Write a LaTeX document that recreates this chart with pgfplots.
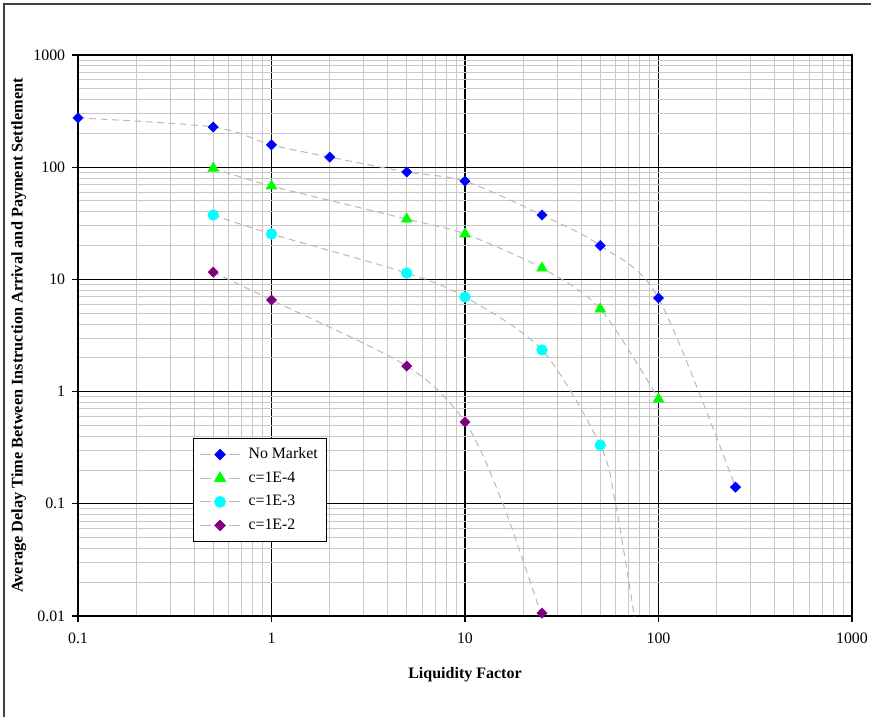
\documentclass[border=0pt]{standalone}
\usepackage{fontspec}
\setmainfont{Liberation Serif}
\usepackage{pgfplots}
\pgfplotsset{compat=1.18}
\definecolor{xlblue}{HTML}{0000FF}
\definecolor{xlgreen}{HTML}{00FF00}
\definecolor{xlcyan}{HTML}{00FFFF}
\definecolor{xlpurple}{HTML}{800080}
\definecolor{trendgray}{HTML}{B8B8B8}
\definecolor{minorgray}{HTML}{C8C8C8}
\begin{document}
\fontsize{11.9}{14}\selectfont
\begin{tikzpicture}
\useasboundingbox (-58.5pt,-75.75pt) rectangle (594.75pt,462pt);
\draw[line width=1.2pt, black!75] (-55.5pt,-80pt) -- (-55.5pt,459pt) -- (600pt,459pt);
\begin{axis}[
  scale only axis,
  width=580.5pt, height=420.75pt,
  at={(0pt,0pt)}, anchor=south west,
  xmode=log, ymode=log,
  xmin=0.1, xmax=1000, ymin=0.01, ymax=1000,
  xtick={0.1,1,10,100,1000},
  xticklabels={0.1,1,10,100,1000},
  ytick={0.01,0.1,1,10,100,1000},
  yticklabels={0.01,0.1,1,10,100,1000},
  minor xtick={0.2,0.3,0.4,0.5,0.6,0.7,0.8,0.9,2,3,4,5,6,7,8,9,20,30,40,50,60,70,80,90,200,300,400,500,600,700,800,900},
  minor ytick={0.02,0.03,0.04,0.05,0.06,0.07,0.08,0.09,0.2,0.3,0.4,0.5,0.6,0.7,0.8,0.9,2,3,4,5,6,7,8,9,20,30,40,50,60,70,80,90,200,300,400,500,600,700,800,900},
  grid=both,
  major grid style={black, line width=0.8pt},
  minor grid style={minorgray, line width=0.75pt},
  tick align=outside,
  major tick length=4.5pt,
  minor tick length=0pt,
  xtick pos=bottom, ytick pos=left,
  tick style={black, line width=0.8pt},
  axis line style={black, line width=0.8pt},
  tick label style={font=\fontsize{11.9}{14}\selectfont},
  xticklabel style={yshift=-4pt},
  yticklabel style={xshift=-1pt},
  xlabel={\textbf{Liquidity Factor}},
  ylabel={\textbf{Average Delay Time Between Instruction Arrival and Payment Settlement}},
  every axis x label/.style={at={(axis description cs:0.5,-0.105)}, anchor=center, font=\fontsize{12}{14}\selectfont},
  every axis y label/.style={at={(axis description cs:-0.0765,0.5)}, anchor=center, rotate=90, font=\fontsize{12.2}{14}\selectfont},
  clip mode=individual,
  trend/.style={trendgray, line width=0.75pt, dash pattern=on 5pt off 3.5pt, smooth, no markers, forget plot},
  legend style={at={(0.1486,0.3173)}, anchor=north west, draw=black, line width=0.8pt,
    font=\fontsize{11.9}{14}\selectfont, row sep=4pt, inner xsep=4.5pt, inner ysep=5pt,
    /tikz/every odd column/.append style={column sep=4pt}},
  legend cell align=left,
  legend image code/.code={
    \draw[trendgray, line width=0.75pt, dash pattern=on 8pt off 3pt] (0pt,0pt) -- (30pt,0pt);
    \draw[mark repeat=2,mark phase=2,#1] plot coordinates {(0pt,0pt) (15pt,0pt) (30pt,0pt)};
  },
]
% trend lines
\addplot[trend] coordinates {(0.1,275) (0.5,228) (1,158) (2,123) (5,90.6) (10,75) (25,37.5) (50,20) (100,6.83) (250,0.141)};
\addplot[trend] coordinates {(0.5,98) (1,68) (5,34.5) (10,25.4) (25,12.6) (50,5.45) (100,0.86)};
\addplot[trend] coordinates {(0.5,37.5) (1,25.4) (5,11.4) (10,6.97) (25,2.35) (50,0.334) (60,0.1) (75,0.01) (78,0.006)};
\addplot[trend] coordinates {(0.5,11.6) (1,6.55) (5,1.69) (10,0.536) (15.7,0.1) (25,0.0098)};
% markers
\addplot[only marks, mark=square*, mark size=2.7pt, mark options={rotate=45, fill=xlblue, draw=xlblue}]
  coordinates {(0.1,275) (0.5,228) (1,158) (2,123) (5,90.6) (10,75) (25,37.5) (50,20) (100,6.83) (250,0.141)};
\addlegendentry{No Market}
\addplot[only marks, mark=triangle*, mark size=4.6pt, mark options={fill=xlgreen, draw=xlgreen}]
  coordinates {(0.5,98) (1,68) (5,34.5) (10,25.4) (25,12.6) (50,5.45) (100,0.86)};
\addlegendentry{c=1E-4}
\addplot[only marks, mark=*, mark size=4pt, mark options={fill=xlcyan, draw=xlcyan}]
  coordinates {(0.5,37.5) (1,25.4) (5,11.4) (10,6.97) (25,2.35) (50,0.334)};
\addlegendentry{c=1E-3}
\addplot[only marks, mark=square*, mark size=2.7pt, mark options={rotate=45, fill=xlpurple, draw=xlpurple}]
  coordinates {(0.5,11.6) (1,6.55) (5,1.69) (10,0.536) (25,0.0106)};
\addlegendentry{c=1E-2}
\end{axis}
\end{tikzpicture}
\end{document}
